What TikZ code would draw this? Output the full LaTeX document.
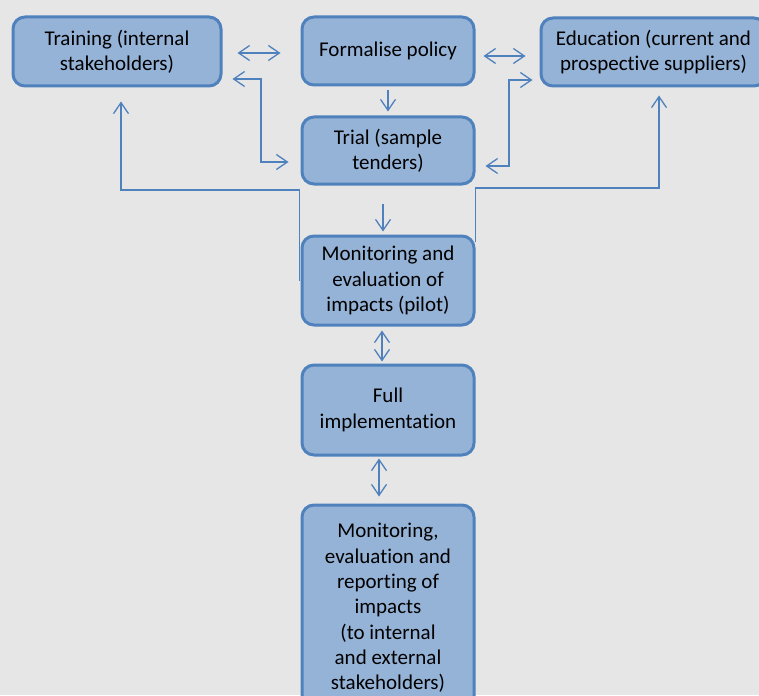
\documentclass[tikz,border=0pt]{standalone}
\usepackage{fontspec}
\setmainfont{Carlito}[Ligatures=NoCommon]
\usetikzlibrary{arrows.meta,calc}
\definecolor{bg}{HTML}{E6E6E6}
\definecolor{boxfill}{HTML}{95B3D7}
\definecolor{boxline}{HTML}{4F81BD}
\tikzset{
  box/.style={draw=boxline, fill=boxfill, line width=3pt, rounded corners=12pt,
    align=center, inner sep=0pt, text=black,
    font=\fontsize{21}{25.3}\selectfont},
  conn/.style={draw=boxline, line width=1.3pt,
    arrows={-Straight Barb[length=11pt,width=15pt,line width=1.3pt]}},
  dconn/.style={conn, arrows={Straight Barb[length=11pt,width=15pt,line width=1.3pt]-Straight Barb[length=11pt,width=15pt,line width=1.3pt]}},
  plain/.style={draw=boxline, line width=1.3pt}
}
\begin{document}
\begin{tikzpicture}[x=1pt,y=-1pt]
\useasboundingbox (0,0) rectangle (759,695);
\clip (0,0) rectangle (759,695);
\fill[bg] (0,0) rectangle (759,695);

\node[box, minimum width=208, minimum height=69] (train) at (117,51.5) {Training (internal\\stakeholders)};
\node[box, minimum width=172, minimum height=68] (form) at (388,51) {Formalise policy};
\node[box, minimum width=225, minimum height=68] (edu) at (653.5,52) {Education (current and\\prospective suppliers)};
\node[box, minimum width=172, minimum height=67] (trial) at (388,150.5) {Trial (sample\\tenders)};
\node[box, minimum width=172, minimum height=89] (pilot) at (388,280.5) {Monitoring and\\evaluation of\\impacts (pilot)};
\node[box, minimum width=172, minimum height=90] (full) at (388,410) {Full\\implementation};
\node[box, minimum width=172, minimum height=206] (final) at (388,608) {Monitoring,\\evaluation and\\reporting of\\impacts\\(to internal\\and external\\stakeholders)};

% horizontal double arrows
\draw[dconn] ($(train.east)+(15,1.5)$) -- ($(form.west)+(-20,2)$);
\draw[dconn] ($(form.east)+(8,5)$) -- ($(edu.west)+(-14,4)$);

% elbow double arrows
\coordinate (lx) at (261,0);
\coordinate (rx) at (509,0);
\draw[dconn] ($(trial.west)+(-12,11.5)$) -| ($(lx)+(0,162)$) |- ($(train.east)+(10,27.5)$);
\draw[dconn] ($(trial.east)+(10,15.5)$) -| ($(rx)+(0,166)$) |- ($(edu.west)+(-7,28)$);

% vertical arrows
\draw[conn] ($(form.south)+(0,4)$) -- ($(trial.north)+(0,-4)$);
\draw[conn] ($(trial.south)+(-5,18)$) -- ($(pilot.north)+(-5,-3)$);
\draw[dconn] ($(pilot.south)+(-6,4)$) -- ($(full.north)+(-6,-2)$);
\draw[dconn] ($(full.south)+(-9,2)$) -- ($(final.north)+(-9,-7)$);

% long feedback connectors
\coordinate (lt) at (121,190);
\coordinate (rt) at (659,188);
\draw[conn] ($(pilot.west)+(-1,0)$) |- (lt) -- ($(train.south -| lt)+(0,14)$);
\draw[conn] ($(pilot.north east)+(0,7)$) |- (rt) -- ($(edu.south -| rt)+(0,8)$);
\end{tikzpicture}
\end{document}
